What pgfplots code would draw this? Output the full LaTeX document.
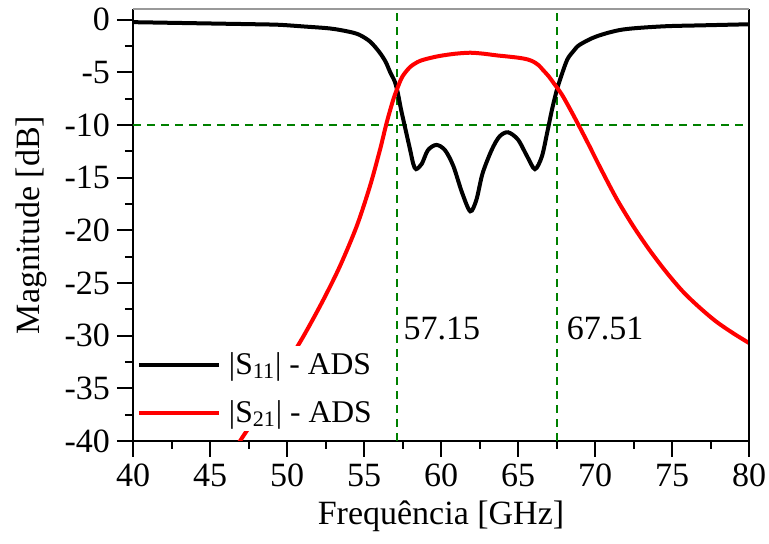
\documentclass[border=0pt]{standalone}
\usepackage{fontspec}
\setmainfont{Liberation Serif}
\usepackage{pgfplots}
\pgfplotsset{compat=1.18}
\usepackage{pgfplotstable}
\definecolor{dgreen}{RGB}{0,128,0}
\pgfplotstableread{
x y
40 -0.25
42 -0.3
44 -0.35
46 -0.4
48 -0.45
49.5 -0.5
51 -0.65
52.8 -0.85
54 -1.15
54.7 -1.45
55.4 -2.1
56.0 -3.1
56.4 -4.0
56.7 -5.0
57.0 -5.9
57.2 -7.0
57.4 -8.5
57.66 -10.2
58.0 -12.4
58.2 -13.7
58.38 -14.2
58.75 -13.7
59.15 -12.4
59.7 -11.9
60.26 -12.4
60.8 -13.9
61.36 -16.4
61.9 -18.2
62.3 -17.1
62.7 -14.6
63.3 -12.35
63.8 -11.1
64.35 -10.7
65.0 -11.4
65.6 -13.0
66.1 -14.2
66.55 -13.0
66.9 -10.7
67.2 -8.6
67.5 -6.8
67.8 -5.4
68.2 -3.8
68.6 -3.0
69.0 -2.4
70.1 -1.6
71.8 -0.95
74.4 -0.65
77 -0.55
80 -0.45
}\sone
\pgfplotstableread{
x y
45 -44.5
46.95 -40
48 -37.7
49 -35.3
50 -32.7
51.17 -29.8
52.36 -26.6
53.44 -23.4
54.53 -19.6
55.39 -15.8
56.04 -12.35
56.47 -9.8
56.9 -7.6
57.2 -6.4
57.5 -5.4
58.0 -4.5
58.6 -3.95
59.3 -3.65
59.94 -3.45
60.9 -3.25
61.9 -3.15
62.8 -3.25
63.6 -3.4
64.4 -3.52
65.1 -3.64
65.6 -3.78
66.0 -4.0
66.35 -4.35
66.6 -4.75
67.0 -5.4
67.3 -6.0
67.84 -7.1
68.4 -8.55
69.0 -10.2
69.6 -11.9
70.32 -14.0
71.4 -17.0
72.5 -19.65
73.6 -22.0
74.7 -24.1
75.76 -25.9
76.84 -27.4
77.9 -28.7
79.0 -29.8
80 -30.7
}\stwo
\begin{document}
\begin{tikzpicture}[font=\fontsize{17}{20.4}\selectfont]
\useasboundingbox (-66.5pt,-51.5pt) rectangle (318pt,220.5pt);
\begin{axis}[
  at={(0pt,0pt)}, anchor=south west,
  scale only axis, width=308pt, height=216pt,
  xmin=40, xmax=80, ymin=-40, ymax=1,
  axis x line*=bottom, axis y line*=left,
  xtick={40,45,...,80}, ytick={-40,-35,...,0},
  minor x tick num=1, minor y tick num=1,
  tick align=outside,
  major tick length=8pt, minor tick length=4pt,
  every tick/.style={black, line width=1pt},
  axis line style={black, line width=1pt, -},
  clip mode=individual,
  /pgf/number format/assume math mode=true,
  xlabel={Frequência [GHz]}, ylabel={Magnitude [dB]},
  ylabel style={xshift=0pt, yshift=2pt},
  legend cell align=left,
  legend style={at={(axis cs:40.1,-39.1)}, anchor=south west, fill=white, draw=none, row sep=7.5pt, column sep=2pt, inner sep=1pt, font=\fontsize{15.8}{19}\selectfont},
  legend image code/.code={\draw[#1] (0pt,0pt) -- (40pt,0pt);},
]
\addplot[forget plot, dgreen, line width=1pt, dash pattern=on 4pt off 3pt] coordinates {(40,-10) (80,-10)};
\addplot[forget plot, dgreen, line width=1pt, dash pattern=on 4pt off 3pt] coordinates {(57.15,-40) (57.15,1)};
\addplot[forget plot, dgreen, line width=1pt, dash pattern=on 4pt off 3pt] coordinates {(67.51,-40) (67.51,1)};
\addplot[black, line width=2pt, smooth] table[x=x,y=y] {\sone};
\addlegendentry{|S\textsubscript{11}| - ADS}
\addplot[red, line width=2pt, smooth] table[x=x,y=y] {\stwo};
\addlegendentry{|S\textsubscript{21}| - ADS}
\draw[black, line width=1pt] (rel axis cs:1,0) -- (rel axis cs:1,1);
\draw[black!40, line width=0.6pt] (rel axis cs:0,1) -- (rel axis cs:1,1);
\node[anchor=base west, inner sep=0pt] at (axis cs:57.55,-30.4) {57.15};
\node[anchor=base west, inner sep=0pt] at (axis cs:68.15,-30.4) {67.51};
\end{axis}
\end{tikzpicture}
\end{document}
